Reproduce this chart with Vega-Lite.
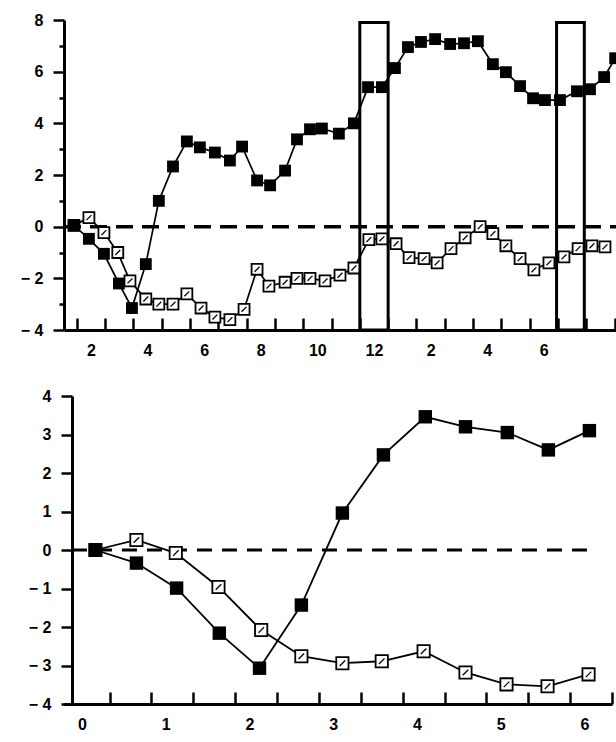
{
  "$schema": "https://vega.github.io/schema/vega-lite/v6.json",
  "background": "white",
  "padding": {"left": 20, "top": 12, "right": 0, "bottom": 0},
  "spacing": 30,
  "config": {
    "view": {"stroke": null},
    "axis": {
      "grid": false,
      "title": null,
      "domainColor": "black",
      "domainWidth": 3,
      "tickColor": "black",
      "tickWidth": 2.5,
      "labelFont": "Liberation Sans",
      "labelFontSize": 16,
      "labelFontWeight": "bold",
      "labelColor": "black",
      "labelFlush": false,
      "labelOverlap": false,
      "labelBound": false
    }
  },
  "datasets": {
    "top": [
      {"s": "filled", "t": 1.40, "v": 0.05},
      {"s": "filled", "t": 1.93, "v": -0.47},
      {"s": "filled", "t": 2.46, "v": -1.05},
      {"s": "filled", "t": 2.99, "v": -2.2},
      {"s": "filled", "t": 3.45, "v": -3.15},
      {"s": "filled", "t": 3.94, "v": -1.45},
      {"s": "filled", "t": 4.40, "v": 1.0},
      {"s": "filled", "t": 4.90, "v": 2.33},
      {"s": "filled", "t": 5.39, "v": 3.3},
      {"s": "filled", "t": 5.85, "v": 3.07},
      {"s": "filled", "t": 6.38, "v": 2.87},
      {"s": "filled", "t": 6.91, "v": 2.56},
      {"s": "filled", "t": 7.34, "v": 3.1},
      {"s": "filled", "t": 7.87, "v": 1.79},
      {"s": "filled", "t": 8.33, "v": 1.6},
      {"s": "filled", "t": 8.86, "v": 2.17},
      {"s": "filled", "t": 9.28, "v": 3.38},
      {"s": "filled", "t": 9.74, "v": 3.77},
      {"s": "filled", "t": 10.16, "v": 3.8},
      {"s": "filled", "t": 10.76, "v": 3.6},
      {"s": "filled", "t": 11.29, "v": 4.0},
      {"s": "filled", "t": 11.79, "v": 5.4},
      {"s": "filled", "t": 12.28, "v": 5.4},
      {"s": "filled", "t": 12.74, "v": 6.14},
      {"s": "filled", "t": 13.20, "v": 6.95},
      {"s": "filled", "t": 13.66, "v": 7.15},
      {"s": "filled", "t": 14.16, "v": 7.26},
      {"s": "filled", "t": 14.69, "v": 7.07},
      {"s": "filled", "t": 15.18, "v": 7.1},
      {"s": "filled", "t": 15.67, "v": 7.18},
      {"s": "filled", "t": 16.20, "v": 6.29},
      {"s": "filled", "t": 16.66, "v": 5.98},
      {"s": "filled", "t": 17.16, "v": 5.44},
      {"s": "filled", "t": 17.62, "v": 4.97},
      {"s": "filled", "t": 18.04, "v": 4.9},
      {"s": "filled", "t": 18.57, "v": 4.9},
      {"s": "filled", "t": 19.17, "v": 5.24},
      {"s": "filled", "t": 19.63, "v": 5.32},
      {"s": "filled", "t": 20.13, "v": 5.79},
      {"s": "filled", "t": 20.52, "v": 6.52},
      {"s": "hatched", "t": 1.40, "v": 0.05},
      {"s": "hatched", "t": 1.93, "v": 0.35},
      {"s": "hatched", "t": 2.46, "v": -0.23},
      {"s": "hatched", "t": 2.95, "v": -1.0},
      {"s": "hatched", "t": 3.38, "v": -2.1},
      {"s": "hatched", "t": 3.94, "v": -2.8},
      {"s": "hatched", "t": 4.40, "v": -3.0},
      {"s": "hatched", "t": 4.90, "v": -3.0},
      {"s": "hatched", "t": 5.39, "v": -2.6},
      {"s": "hatched", "t": 5.89, "v": -3.15},
      {"s": "hatched", "t": 6.38, "v": -3.5},
      {"s": "hatched", "t": 6.91, "v": -3.6},
      {"s": "hatched", "t": 7.41, "v": -3.2},
      {"s": "hatched", "t": 7.87, "v": -1.65},
      {"s": "hatched", "t": 8.29, "v": -2.3},
      {"s": "hatched", "t": 8.86, "v": -2.15},
      {"s": "hatched", "t": 9.28, "v": -2.0},
      {"s": "hatched", "t": 9.74, "v": -2.0},
      {"s": "hatched", "t": 10.27, "v": -2.1},
      {"s": "hatched", "t": 10.80, "v": -1.88},
      {"s": "hatched", "t": 11.29, "v": -1.6},
      {"s": "hatched", "t": 11.82, "v": -0.5},
      {"s": "hatched", "t": 12.28, "v": -0.47},
      {"s": "hatched", "t": 12.78, "v": -0.66},
      {"s": "hatched", "t": 13.24, "v": -1.2},
      {"s": "hatched", "t": 13.77, "v": -1.24},
      {"s": "hatched", "t": 14.23, "v": -1.4},
      {"s": "hatched", "t": 14.72, "v": -0.85},
      {"s": "hatched", "t": 15.22, "v": -0.43},
      {"s": "hatched", "t": 15.75, "v": 0.0},
      {"s": "hatched", "t": 16.20, "v": -0.27},
      {"s": "hatched", "t": 16.66, "v": -0.74},
      {"s": "hatched", "t": 17.16, "v": -1.24},
      {"s": "hatched", "t": 17.65, "v": -1.67},
      {"s": "hatched", "t": 18.18, "v": -1.4},
      {"s": "hatched", "t": 18.71, "v": -1.17},
      {"s": "hatched", "t": 19.21, "v": -0.85},
      {"s": "hatched", "t": 19.70, "v": -0.74},
      {"s": "hatched", "t": 20.16, "v": -0.78}
    ],
    "bottom": [
      {"s": "filled", "t": 0.16, "v": 0},
      {"s": "filled", "t": 0.65, "v": -0.34},
      {"s": "filled", "t": 1.13, "v": -0.99},
      {"s": "filled", "t": 1.64, "v": -2.16},
      {"s": "filled", "t": 2.12, "v": -3.07},
      {"s": "filled", "t": 2.62, "v": -1.43},
      {"s": "filled", "t": 3.11, "v": 0.96},
      {"s": "filled", "t": 3.6, "v": 2.47},
      {"s": "filled", "t": 4.1, "v": 3.46},
      {"s": "filled", "t": 4.58, "v": 3.2},
      {"s": "filled", "t": 5.08, "v": 3.05},
      {"s": "filled", "t": 5.57, "v": 2.6},
      {"s": "filled", "t": 6.06, "v": 3.1},
      {"s": "hatched", "t": 0.16, "v": 0},
      {"s": "hatched", "t": 0.65, "v": 0.26},
      {"s": "hatched", "t": 1.12, "v": -0.08},
      {"s": "hatched", "t": 1.63, "v": -0.96},
      {"s": "hatched", "t": 2.14, "v": -2.08},
      {"s": "hatched", "t": 2.62, "v": -2.76},
      {"s": "hatched", "t": 3.11, "v": -2.94},
      {"s": "hatched", "t": 3.58, "v": -2.89},
      {"s": "hatched", "t": 4.08, "v": -2.63},
      {"s": "hatched", "t": 4.58, "v": -3.18},
      {"s": "hatched", "t": 5.07, "v": -3.49},
      {"s": "hatched", "t": 5.56, "v": -3.54},
      {"s": "hatched", "t": 6.05, "v": -3.23}
    ]
  },
  "vconcat": [
    {
      "width": 554,
      "height": 310,
      "encoding": {
        "x": {
          "field": "t", "type": "quantitative",
          "scale": {"domain": [1.05, 20.62], "nice": false, "zero": false},
          "axis": {
            "values": [1.5, 2.5, 3.5, 4.5, 5.5, 6.5, 7.5, 8.5, 9.5, 10.5, 11.5, 12.5, 13.5, 14.5, 15.5, 16.5, 17.5, 18.5, 19.5, 20.5],
            "labelExpr": "((datum.value + 0.5) % 2 === 0 && datum.value + 0.5 <= 18) ? ((datum.value + 0.5 > 12) ? (datum.value + 0.5 - 12) + '' : (datum.value + 0.5) + '') : ''",
            "labelOffset": 14.15,
            "tickSize": -12,
            "labelPadding": 24
          }
        },
        "y": {
          "field": "v", "type": "quantitative",
          "scale": {"domain": [-4, 8], "nice": false, "zero": false},
          "axis": {
            "values": [-4, -3, -2, -1, 0, 1, 2, 3, 4, 5, 6, 7, 8],
            "labelExpr": "datum.value % 2 === 0 ? (datum.value < 0 ? '\u2212 ' + abs(datum.value) : datum.value + '') : ''",
            "tickSize": {"condition": {"test": "datum.value % 2 !== 0", "value": 5}, "value": 11},
            "labelPadding": 10
          }
        }
      },
      "layer": [
        {
          "data": {"values": [{"t": 1.05, "t2": 20.62, "v": 0}]},
          "mark": {"type": "rule", "color": "black", "strokeWidth": 3.5, "strokeDash": [17, 9]},
          "encoding": {"x2": {"field": "t2"}}
        },
        {
          "data": {"values": [{"t": 11.5, "t2": 12.5, "v": -4, "v2": 7.9}, {"t": 18.45, "t2": 19.43, "v": -4, "v2": 7.9}]},
          "mark": {"type": "rect", "fill": "white", "fillOpacity": 0, "stroke": "black", "strokeWidth": 3},
          "encoding": {"x2": {"field": "t2"}, "y2": {"field": "v2"}}
        },
        {
          "data": {"name": "top"},
          "mark": {"type": "line", "color": "black", "strokeWidth": 1.7},
          "encoding": {"detail": {"field": "s"}}
        },
        {
          "data": {"name": "top"},
          "transform": [{"filter": "datum.s === 'hatched'"}],
          "mark": {"type": "point", "shape": "square", "filled": true, "fill": "white", "stroke": "black", "strokeWidth": 1.8, "size": 120, "opacity": 1}
        },
        {
          "data": {"name": "top"},
          "transform": [{"filter": "datum.s === 'hatched'"}],
          "mark": {"type": "point", "shape": "M-0.45,0.45L0.45,-0.45", "filled": false, "stroke": "black", "strokeWidth": 1.3, "size": 120, "opacity": 1}
        },
        {
          "data": {"name": "top"},
          "transform": [{"filter": "datum.s === 'filled'"}],
          "mark": {"type": "point", "shape": "square", "filled": true, "color": "black", "size": 140, "opacity": 1}
        }
      ]
    },
    {
      "width": 548,
      "height": 308,
      "encoding": {
        "x": {
          "field": "t", "type": "quantitative",
          "scale": {"domain": [-0.215, 6.33], "nice": false, "zero": false},
          "axis": {
            "values": [0.33, 0.83, 1.33, 1.83, 2.33, 2.83, 3.33, 3.83, 4.33, 4.83, 5.33, 5.83, 6.33],
            "labelExpr": "abs(datum.value - 0.33 - round(datum.value - 0.33)) < 0.01 ? round(datum.value - 0.33) + '' : ''",
            "labelOffset": -27.6,
            "tickSize": -12,
            "labelPadding": 24
          }
        },
        "y": {
          "field": "v", "type": "quantitative",
          "scale": {"domain": [-4, 4], "nice": false, "zero": false},
          "axis": {
            "values": [-4, -3, -2, -1, 0, 1, 2, 3, 4],
            "labelExpr": "datum.value < 0 ? '\u2212 ' + abs(datum.value) : datum.value + ''",
            "tickSize": 11,
            "labelPadding": 10,
            "offset": -8
          }
        }
      },
      "layer": [
        {
          "data": {"values": [{"t": -0.12, "t2": 6.13, "v": 0}]},
          "mark": {"type": "rule", "color": "black", "strokeWidth": 3, "strokeDash": [15, 10]},
          "encoding": {"x2": {"field": "t2"}}
        },
        {
          "data": {"name": "bottom"},
          "mark": {"type": "line", "color": "black", "strokeWidth": 1.8},
          "encoding": {"detail": {"field": "s"}}
        },
        {
          "data": {"name": "bottom"},
          "transform": [{"filter": "datum.s === 'hatched'"}],
          "mark": {"type": "point", "shape": "square", "filled": true, "fill": "white", "stroke": "black", "strokeWidth": 1.8, "size": 150, "opacity": 1}
        },
        {
          "data": {"name": "bottom"},
          "transform": [{"filter": "datum.s === 'hatched'"}],
          "mark": {"type": "point", "shape": "M-0.45,0.45L0.45,-0.45", "filled": false, "stroke": "black", "strokeWidth": 1.3, "size": 150, "opacity": 1}
        },
        {
          "data": {"name": "bottom"},
          "transform": [{"filter": "datum.s === 'filled'"}],
          "mark": {"type": "point", "shape": "square", "filled": true, "color": "black", "size": 180, "opacity": 1}
        }
      ]
    }
  ]
}
